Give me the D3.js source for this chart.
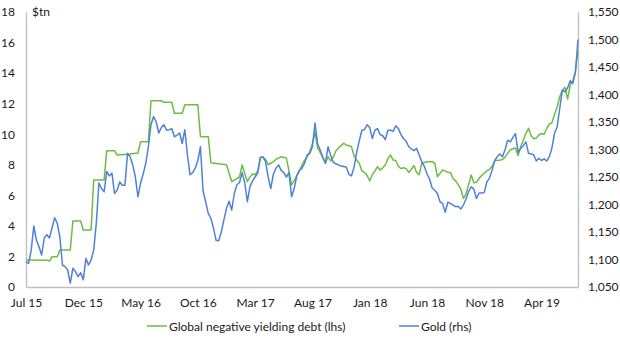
<!DOCTYPE html>
<html>
<head>
<meta charset="utf-8">
<script src="https://cdn.jsdelivr.net/npm/d3@7"></script>
<style>
  html, body { margin: 0; padding: 0; background: #fff; }
  svg { display: block; font-family: Lato, "Open Sans", sans-serif; }
</style>
</head>
<body>
<svg id="chart" width="620" height="338"></svg>
<script>
// ---- Data (weekly observations, week 0 = early Jul 2015) ----
const tickWeeks  = [0, 22, 44, 66, 88, 110, 132, 154, 176, 198];
const tickLabels = ["Jul 15", "Dec 15", "May 16", "Oct 16", "Mar 17", "Aug 17", "Jan 18", "Jun 18", "Nov 18", "Apr 19"];
const leftTicks  = [0, 2, 4, 6, 8, 10, 12, 14, 16, 18];
const rightTicks = [1050, 1100, 1150, 1200, 1250, 1300, 1350, 1400, 1450, 1500, 1550];

// Global negative yielding debt ($tn, lhs) : week index / value
const debtWeeks = [0, 8, 9, 10, 12, 13, 17, 18, 21, 22, 25, 26, 30, 31, 34, 35, 40, 43, 44, 47, 48, 52, 53, 56, 57, 60, 61, 66, 67, 70,
  71, 77, 79, 80, 82, 83, 85, 86, 87, 88, 89, 90, 91, 92, 93, 94, 95, 96, 98, 100, 101, 102, 103, 104, 105, 106, 107, 108, 109, 110,
  111, 112, 113, 114, 115, 116, 117, 118, 119, 120, 121, 122, 123, 124, 125, 126, 127, 128, 129, 130, 131, 132, 133, 134, 135, 136, 137, 138, 139, 140,
  141, 142, 143, 144, 145, 146, 147, 148, 149, 150, 151, 152, 154, 156, 157, 158, 159, 160, 161, 162, 163, 164, 165, 166, 167, 168, 169, 170,
  171, 172, 173, 174, 175, 176, 177, 178, 179, 180, 181, 182, 183, 184, 185, 186, 187, 188, 189, 190, 191, 192, 193, 194, 195, 196, 197, 198, 199, 200,
  201, 202, 203, 204, 205, 206, 207, 208, 209, 210, 211, 212];
const debtValues = [1.77, 1.75, 1.7, 1.98, 1.98, 2.42, 2.42, 4.32, 4.32, 3.73, 3.73, 7.0, 7.0, 8.92, 8.92, 8.64, 8.7, 8.77, 9.51, 9.51, 12.19, 12.19, 12.09, 12.09, 11.37, 11.37, 11.93, 11.93, 9.84, 9.84,
  8.14, 8.0, 6.9, 7.0, 7.2, 7.98, 6.9, 7.2, 7.4, 7.35, 7.6, 8.44, 8.53, 8.35, 8.0, 8.1, 8.2, 8.35, 8.53, 8.44, 7.6, 6.68, 6.95, 7.3, 7.6, 7.98, 8.3, 8.53, 8.86, 9.4,
  10.1, 9.1, 8.8, 8.5, 8.1, 8.53, 8.25, 8.5, 8.9, 9.1, 9.25, 9.4, 9.3, 9.25, 9.18, 8.6, 8.3, 8.1, 7.6, 7.5, 7.3, 6.95, 7.35, 7.6, 7.87, 7.65, 7.8, 7.98, 8.4, 8.65,
  8.31, 8.28, 7.9, 7.75, 7.8, 7.75, 7.5, 7.7, 7.95, 7.5, 7.35, 8.1, 8.2, 8.2, 8.1, 7.22, 7.45, 7.66, 7.6, 7.5, 7.5, 7.1, 6.95, 6.7, 6.4, 5.8, 6.1, 6.7,
  7.33, 6.83, 6.85, 7.1, 7.3, 7.45, 7.6, 7.7, 7.9, 8.25, 8.3, 8.3, 8.35, 8.5, 8.75, 8.97, 9.05, 9.1, 8.6, 9.2, 9.6, 10.06, 10.39, 9.9, 9.7, 9.75, 9.95, 10.05, 10.0, 10.39,
  10.67, 10.75, 11.3, 11.8, 12.45, 12.9, 13.07, 12.3, 13.2, 13.5, 14.1, 15.5];

// Gold ($/oz, rhs) : one value per week, weeks 0..212
const goldValues = [1096, 1093, 1117, 1161, 1135, 1123, 1108, 1139, 1145, 1139, 1157, 1176, 1166, 1141, 1090, 1087, 1081, 1057, 1084, 1078,
  1069, 1076, 1063, 1102, 1090, 1099, 1117, 1166, 1239, 1229, 1223, 1260, 1252, 1257, 1220, 1226, 1241, 1235, 1235, 1293,
  1287, 1272, 1250, 1214, 1239, 1255, 1275, 1305, 1345, 1360, 1350, 1330, 1340, 1345, 1335, 1336, 1338, 1323, 1326, 1330,
  1311, 1336, 1290, 1254, 1258, 1266, 1280, 1305, 1225, 1205, 1184, 1175, 1157, 1135, 1134, 1150, 1172, 1193, 1206, 1190,
  1220, 1236, 1240, 1258, 1240, 1205, 1232, 1243, 1250, 1257, 1286, 1286, 1278, 1250, 1229, 1255, 1266, 1272, 1262, 1258,
  1250, 1258, 1214, 1229, 1252, 1262, 1266, 1275, 1290, 1293, 1305, 1348, 1310, 1299, 1285, 1275, 1305, 1290, 1277, 1274,
  1272, 1270, 1269, 1268, 1255, 1252, 1268, 1295, 1316, 1335, 1336, 1345, 1340, 1320, 1335, 1338, 1327, 1325, 1318, 1335,
  1335, 1333, 1343, 1338, 1327, 1320, 1315, 1305, 1301, 1298, 1302, 1290, 1278, 1269, 1256, 1246, 1230, 1226, 1220, 1205,
  1202, 1186, 1204, 1202, 1199, 1196, 1197, 1192, 1199, 1210, 1224, 1232, 1228, 1211, 1221, 1221, 1222, 1241, 1248, 1262,
  1280, 1287, 1292, 1287, 1300, 1317, 1314, 1322, 1329, 1295, 1302, 1307, 1314, 1293, 1292, 1290, 1279, 1284, 1280, 1283,
  1279, 1287, 1303, 1330, 1341, 1375, 1408, 1405, 1412, 1425, 1420, 1440, 1500];

const seriesNames = ["Global negative yielding debt (lhs)", "Gold (rhs)"];
const seriesColors = ["#6cbd45", "#4f82d6"];

// ---- Layout ----
const svg = d3.select("#chart");
const plot = { left: 26, right: 578, top: 12, bottom: 287 };

const x = d3.scaleLinear().domain([0, goldValues.length - 1]).range([plot.left, plot.right]);
const yL = d3.scaleLinear().domain([0, 18]).range([plot.bottom, plot.top]);
const yR = d3.scaleLinear().domain([1050, 1550]).range([plot.bottom, plot.top]);

const axisColor = "#bfbfbf";
const textColor = "#1a1a1a";

function styleAxis(g) {
  g.select(".domain").attr("stroke", axisColor).attr("stroke-width", 1.3);
  g.selectAll(".tick line").remove();
  g.selectAll("text").attr("fill", textColor).style("font-size", "12px").style("font-family", "Lato, 'Open Sans', sans-serif");
}

svg.append("g")
  .attr("transform", `translate(${plot.left},0)`)
  .call(d3.axisLeft(yL).tickValues(leftTicks).tickSize(0).tickSizeOuter(0).tickPadding(11).tickFormat(d3.format("d")))
  .call(styleAxis);

svg.append("g")
  .attr("transform", `translate(${plot.right},0)`)
  .call(d3.axisRight(yR).tickValues(rightTicks).tickSize(0).tickSizeOuter(0).tickPadding(10).tickFormat(d3.format(",")))
  .call(styleAxis);

svg.append("g")
  .attr("transform", `translate(0,${plot.bottom})`)
  .call(d3.axisBottom(x).tickValues(tickWeeks).tickSize(0).tickSizeOuter(0).tickPadding(11)
        .tickFormat((d, i) => tickLabels[i]))
  .call(styleAxis);

svg.append("text")
  .attr("x", 32).attr("y", 16)
  .attr("fill", textColor)
  .style("font-size", "12px")
  .text("$tn");

// ---- Lines ----
const debtLine = d3.line().x(d => x(d[0])).y(d => yL(d[1]));
const goldLine = d3.line().x((d, i) => x(i)).y(d => yR(d));

svg.append("path")
  .datum(debtWeeks.map((w, i) => [w, debtValues[i]]))
  .attr("fill", "none")
  .attr("stroke", seriesColors[0])
  .attr("stroke-width", 1.5)
  .attr("stroke-linejoin", "round")
  .attr("d", debtLine);

svg.append("path")
  .datum(goldValues)
  .attr("fill", "none")
  .attr("stroke", seriesColors[1])
  .attr("stroke-width", 1.5)
  .attr("stroke-linejoin", "round")
  .attr("d", goldLine);

// ---- Legend ----
const legendItems = [
  { x: 147, name: seriesNames[0], color: seriesColors[0] },
  { x: 399, name: seriesNames[1], color: seriesColors[1] }
];
const lg = svg.append("g");
legendItems.forEach(it => {
  lg.append("line")
    .attr("x1", it.x).attr("x2", it.x + 20)
    .attr("y1", 326).attr("y2", 326)
    .attr("stroke", it.color).attr("stroke-width", 1.5);
  lg.append("text")
    .attr("x", it.x + 22).attr("y", 330.5)
    .attr("fill", textColor)
    .style("font-size", "12px")
    .text(it.name);
});
</script>
</body>
</html>
